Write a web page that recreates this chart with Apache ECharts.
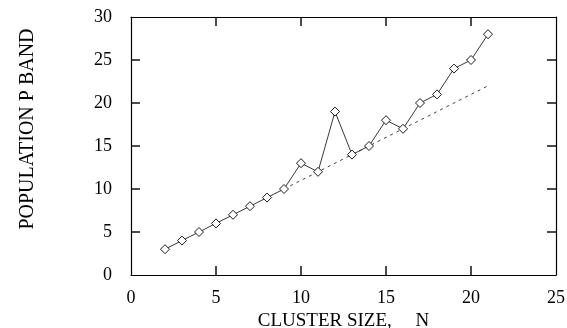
<!DOCTYPE html>
<html>
<head>
<meta charset="utf-8">
<script src="https://cdn.jsdelivr.net/npm/echarts@6/dist/echarts.min.js"></script>
<style>
html,body{margin:0;padding:0;background:#fff;}
#chart{width:567px;height:328px;}
</style>
</head>
<body>
<div id="chart"></div>
<script>
var clusterSize = [2,3,4,5,6,7,8,9,10,11,12,13,14,15,16,17,18,19,20,21];
var populationP = [3,4,5,6,7,8,9,10,13,12,19,14,15,18,17,20,21,24,25,28];
var fitN = [9, 21];
var fitP = [10, 22];
var xTicks = [5, 10, 15, 20];
var yTicks = [5, 10, 15, 20, 25];
var xName = 'CLUSTER SIZE,     N';
var yName = 'POPULATION P BAND';

var font = 'Liberation Serif';
var chart = echarts.init(document.getElementById('chart'), null, {renderer:'canvas'});

function pairs(xs, ys){ return xs.map(function(x,i){ return [x, ys[i]]; }); }
function line(){ return {show:true, onZero:false, lineStyle:{color:'#000', width:1.2}}; }
var TL = 9;
function tickStyle(){ return {stroke:'#111', lineWidth:1.5}; }

function renderXTick(params, api){
  var cs = params.coordSys;
  var px = api.coord([api.value(0), api.value(1)])[0];
  return {type:'group', children:[
    {type:'line', shape:{x1:px, y1:cs.y+cs.height, x2:px, y2:cs.y+cs.height-TL}, style:tickStyle()},
    {type:'line', shape:{x1:px, y1:cs.y, x2:px, y2:cs.y+TL}, style:tickStyle()}
  ]};
}
function renderYTick(params, api){
  var cs = params.coordSys;
  var py = api.coord([api.value(0), api.value(1)])[1];
  return {type:'group', children:[
    {type:'line', shape:{x1:cs.x, y1:py, x2:cs.x+TL, y2:py}, style:tickStyle()},
    {type:'line', shape:{x1:cs.x+cs.width, y1:py, x2:cs.x+cs.width-TL, y2:py}, style:tickStyle()}
  ]};
}

var option = {
  animation:false,
  backgroundColor:'#fff',
  grid:{left:131, right:11, top:17, bottom:53, containLabel:false, outerBoundsMode:'none'},
  xAxis:[{
    type:'value', min:0, max:25, interval:5, position:'bottom',
    name:xName, nameLocation:'middle', nameGap:37,
    nameTextStyle:{fontFamily:font, fontSize:19, color:'#000'},
    axisLine:line(),
    axisTick:{show:false},
    axisLabel:{fontFamily:font, fontSize:18, color:'#000', margin:14},
    splitLine:{show:false}
  },{
    type:'value', min:0, max:25, interval:5, position:'top',
    axisLine:line(),
    axisTick:{show:false}, axisLabel:{show:false}, splitLine:{show:false}
  }],
  yAxis:[{
    type:'value', min:0, max:30, interval:5, position:'left',
    name:yName, nameLocation:'middle', nameGap:93, nameRotate:90,
    nameTextStyle:{fontFamily:font, fontSize:20, color:'#000', padding:[0,0,0,34]},
    axisLine:line(),
    axisTick:{show:false},
    axisLabel:{fontFamily:font, fontSize:18, color:'#000', margin:19},
    splitLine:{show:false}
  },{
    type:'value', min:0, max:30, interval:5, position:'right',
    axisLine:line(),
    axisTick:{show:false}, axisLabel:{show:false}, splitLine:{show:false}
  }],
  series:[{
    type:'custom', clip:false, silent:true,
    data:xTicks.map(function(v){ return [v, 0]; }),
    encode:{x:0, y:1},
    renderItem:renderXTick, z:5
  },{
    type:'custom', clip:false, silent:true,
    data:yTicks.map(function(v){ return [0, v]; }),
    encode:{x:0, y:1},
    renderItem:renderYTick, z:5
  },{
    type:'line',
    data:pairs(fitN, fitP),
    symbol:'none',
    lineStyle:{color:'#444', width:1, type:[3,4]},
    z:1
  },{
    type:'line',
    data:pairs(clusterSize, populationP),
    symbol:'diamond', symbolSize:9,
    itemStyle:{color:'#fff', borderColor:'#000', borderWidth:0.9},
    lineStyle:{color:'#222', width:0.9},
    z:2
  }]
};
chart.setOption(option);
</script>
</body>
</html>
